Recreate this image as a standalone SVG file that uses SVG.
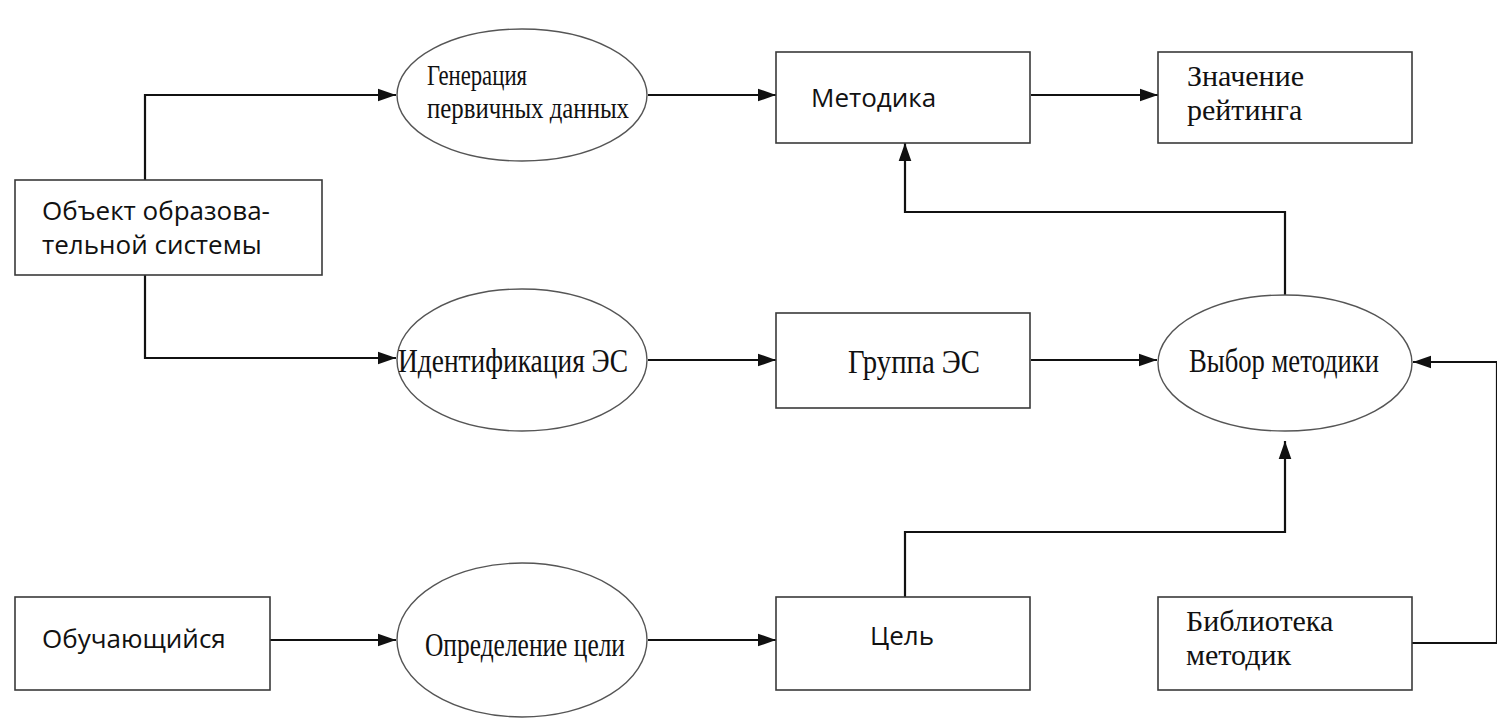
<svg xmlns="http://www.w3.org/2000/svg" width="1497" height="728" viewBox="0 0 1497 728">
<style>
.box{fill:#fff;stroke:#3a3a3a;stroke-width:1.6}
.ell{fill:#fff;stroke:#555;stroke-width:1.4}
.sans{font-family:"Open Sans","Noto Sans","Liberation Sans",sans-serif;font-size:26px;fill:#111}
.serif{font-family:"Liberation Serif","DejaVu Serif",serif;font-size:30px;fill:#111}
.cond{font-family:"Liberation Serif","DejaVu Serif",serif;font-size:30px;fill:#111}
.big{font-size:33px}
.conn{fill:none;stroke:#111;stroke-width:2.2}
</style>
<defs>
<marker id="arrL" viewBox="0 0 10 10" refX="10" refY="5" markerWidth="18" markerHeight="18" markerUnits="userSpaceOnUse" orient="auto">
<path d="M0,1.5 L10,5 L0,8.5 z" fill="#111"/>
</marker>
</defs>
<rect width="1497" height="728" fill="#fff"/>
<g id="connectors">
<path class="conn" d="M145,180 V95 H396" marker-end="url(#arrL)"/>
<path class="conn" d="M145,275 V358 H396" marker-end="url(#arrL)"/>
<path class="conn" d="M648,95 H776" marker-end="url(#arrL)"/>
<path class="conn" d="M1031,95 H1158" marker-end="url(#arrL)"/>
<path class="conn" d="M648,360 H776" marker-end="url(#arrL)"/>
<path class="conn" d="M1031,360 H1157" marker-end="url(#arrL)"/>
<path class="conn" d="M270,640 H396" marker-end="url(#arrL)"/>
<path class="conn" d="M648,640 H776" marker-end="url(#arrL)"/>
<path class="conn" d="M1285,298 V212 H905 V143" marker-end="url(#arrL)"/>
<path class="conn" d="M905,597 V532 H1285 V441" marker-end="url(#arrL)"/>
<path class="conn" d="M1412,643 H1497 V362 H1413" marker-end="url(#arrL)"/>
</g>
<g id="n-obj">
<rect class="box" x="15" y="180" width="307" height="95"/>
<text class="sans" x="42" y="220">Объект образова-</text>
<text class="sans" x="42" y="254">тельной системы</text>
</g>
<g id="n-gen">
<ellipse class="ell" cx="522" cy="95" rx="125" ry="66"/>
<text class="cond" x="427" y="85" textLength="100" lengthAdjust="spacingAndGlyphs">Генерация</text>
<text class="cond" x="427" y="118" textLength="202" lengthAdjust="spacingAndGlyphs">первичных данных</text>
</g>
<g id="n-met">
<rect class="box" x="776" y="52" width="254" height="91"/>
<text class="sans" x="811" y="107">Методика</text>
</g>
<g id="n-znach">
<rect class="box" x="1158" y="52" width="254" height="91"/>
<text class="serif" x="1187" y="86">Значение</text>
<text class="serif" x="1187" y="120">рейтинга</text>
</g>
<g id="n-ident">
<ellipse class="ell" cx="522" cy="360" rx="125" ry="71"/>
<text class="cond big" x="398" y="372" textLength="230" lengthAdjust="spacingAndGlyphs">Идентификация ЭС</text>
</g>
<g id="n-group">
<rect class="box" x="776" y="313" width="254" height="95"/>
<text class="cond big" x="848" y="373" textLength="132" lengthAdjust="spacingAndGlyphs">Группа ЭС</text>
</g>
<g id="n-vybor">
<ellipse class="ell" cx="1285" cy="363" rx="127" ry="68"/>
<text class="cond big" x="1189" y="372" textLength="190" lengthAdjust="spacingAndGlyphs">Выбор методики</text>
</g>
<g id="n-obuch">
<rect class="box" x="15" y="597" width="255" height="93"/>
<text class="sans" x="42" y="648">Обучающийся</text>
</g>
<g id="n-opred">
<ellipse class="ell" cx="522" cy="640" rx="125" ry="77"/>
<text class="cond big" x="425" y="656" textLength="200" lengthAdjust="spacingAndGlyphs">Определение цели</text>
</g>
<g id="n-cel">
<rect class="box" x="776" y="597" width="254" height="93"/>
<text class="sans" x="870" y="645">Цель</text>
</g>
<g id="n-lib">
<rect class="box" x="1158" y="597" width="254" height="93"/>
<text class="serif" x="1186" y="631">Библиотека</text>
<text class="serif" x="1186" y="665">методик</text>
</g>
</svg>
